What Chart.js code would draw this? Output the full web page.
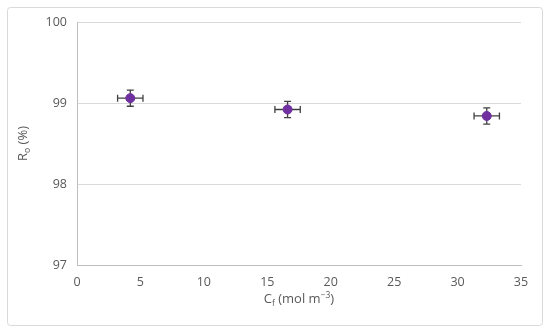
<!DOCTYPE html>
<html>
<head>
<meta charset="utf-8">
<script src="https://cdn.jsdelivr.net/npm/chart.js@4/dist/chart.umd.min.js"></script>
<style>
  html, body { margin: 0; padding: 0; background: #fff; }
  #wrap { width: 550px; height: 333px; }
</style>
</head>
<body>
<div id="wrap"><canvas id="chart" width="550" height="333"></canvas></div>
<script>
// feed concentration (mol m-3) and observed rejection (%)
const cf = [4.2, 16.6, 32.3];
const ro = [99.06, 98.92, 98.84];
const cfErr = [1.0, 1.0, 1.0];
const roErr = [0.1, 0.1, 0.1];

const xTicks = [0, 5, 10, 15, 20, 25, 30, 35];
const yTicks = [97, 98, 99, 100];

const FONT = "'Open Sans', 'Liberation Sans', sans-serif";
const TEXT = "#595959";

// outer frame + axis titles (with subscripts)
const framePlugin = {
  id: "frame",
  beforeDraw(chart) {
    const c = chart.ctx;
    c.save();
    c.fillStyle = "#fff";
    c.fillRect(0, 0, chart.width, chart.height);
    c.strokeStyle = "#d9d9d9";
    c.lineWidth = 1;
    c.beginPath();
    c.roundRect(7.5, 7.5, 535, 318, 3);
    c.stroke();
    c.restore();
  },
  afterDraw(chart) {
    const c = chart.ctx;
    const a = chart.chartArea;
    c.save();
    c.fillStyle = TEXT;
    c.textBaseline = "alphabetic";

    // x title: C_f (mol m^-3)
    const parts = [
      { t: "C", s: 13, dy: 0 },
      { t: "f", s: 8.5, dy: 3 },
      { t: " (mol m", s: 13, dy: 0 },
      { t: "\u22123", s: 8.5, dy: -5 },
      { t: ")", s: 13, dy: 0 }
    ];
    let w = 0;
    parts.forEach(p => { c.font = p.s + "px " + FONT; w += c.measureText(p.t).width; });
    let x = (a.left + a.right) / 2 - w / 2;
    const base = 303;
    parts.forEach(p => {
      c.font = p.s + "px " + FONT;
      c.fillText(p.t, x, base + p.dy);
      x += c.measureText(p.t).width;
    });

    // y title: R_o (%)
    const yparts = [
      { t: "R", s: 13, dy: 0 },
      { t: "o", s: 8.5, dy: 3 },
      { t: " (%)", s: 13, dy: 0 }
    ];
    w = 0;
    yparts.forEach(p => { c.font = p.s + "px " + FONT; w += c.measureText(p.t).width; });
    c.translate(27, (a.top + a.bottom) / 2);
    c.rotate(-Math.PI / 2);
    x = -w / 2;
    yparts.forEach(p => {
      c.font = p.s + "px " + FONT;
      c.fillText(p.t, x, p.dy);
      x += c.measureText(p.t).width;
    });
    c.restore();
  }
};

// error bars drawn through the scales, under the markers
const errorBars = {
  id: "errorBars",
  beforeDatasetsDraw(chart) {
    const c = chart.ctx;
    const xs = chart.scales.x, ys = chart.scales.y;
    c.save();
    c.strokeStyle = "#404040";
    c.lineWidth = 1.3;
    for (let i = 0; i < cf.length; i++) {
      const px = xs.getPixelForValue(cf[i]);
      const py = ys.getPixelForValue(ro[i]);
      const x0 = xs.getPixelForValue(cf[i] - cfErr[i]);
      const x1 = xs.getPixelForValue(cf[i] + cfErr[i]);
      const y0 = ys.getPixelForValue(ro[i] - roErr[i]);
      const y1 = ys.getPixelForValue(ro[i] + roErr[i]);
      const cap = 3.5;
      c.beginPath();
      c.moveTo(x0, py); c.lineTo(x1, py);
      c.moveTo(x0, py - cap); c.lineTo(x0, py + cap);
      c.moveTo(x1, py - cap); c.lineTo(x1, py + cap);
      c.moveTo(px, y0); c.lineTo(px, y1);
      c.moveTo(px - cap, y0); c.lineTo(px + cap, y0);
      c.moveTo(px - cap, y1); c.lineTo(px + cap, y1);
      c.stroke();
    }
    c.restore();
  }
};

new Chart(document.getElementById("chart"), {
  type: "scatter",
  data: {
    datasets: [{
      data: cf.map((v, i) => ({ x: v, y: ro[i] })),
      backgroundColor: "#7030a0",
      borderColor: "#7030a0",
      pointRadius: 4.5,
      pointHoverRadius: 4.5
    }]
  },
  options: {
    responsive: false,
    animation: false,
    layout: { padding: { top: 22, right: 29, left: 0, bottom: 0 } },
    plugins: { legend: { display: false }, tooltip: { enabled: false } },
    scales: {
      x: {
        type: "linear",
        min: 0, max: 35,
        afterBuildTicks: s => { s.ticks = xTicks.map(v => ({ value: v })); },
        afterFit: s => { s.height = 68; },
        grid: { display: false, drawTicks: false },
        border: { display: true, color: "#bfbfbf", width: 1 },
        ticks: { color: TEXT, font: { family: FONT, size: 12.5 }, padding: 10 }
      },
      y: {
        min: 97, max: 100,
        afterBuildTicks: s => { s.ticks = yTicks.map(v => ({ value: v })); },
        afterFit: s => { s.width = 77; },
        grid: { color: "#d9d9d9", drawTicks: false, lineWidth: 1 },
        border: { display: true, color: "#bfbfbf", width: 1 },
        ticks: { color: TEXT, font: { family: FONT, size: 12.5 }, padding: 10 }
      }
    }
  },
  plugins: [framePlugin, errorBars]
});
</script>
</body>
</html>
